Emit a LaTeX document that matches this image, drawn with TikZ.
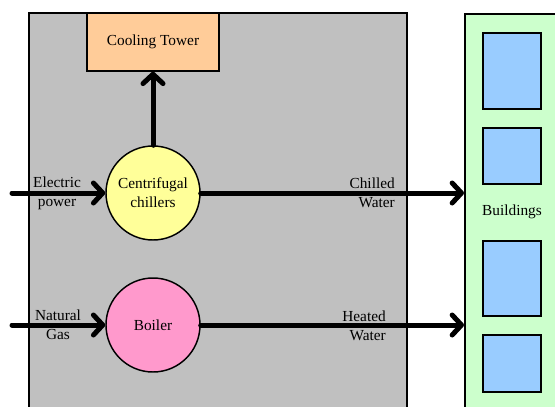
\documentclass[tikz,border=0pt]{standalone}
\usepackage{fontspec}
\setmainfont{Liberation Serif}
\usetikzlibrary{arrows.meta}
\usetikzlibrary{positioning}

\definecolor{plantgray}{HTML}{C0C0C0}
\definecolor{towerpeach}{HTML}{FFCC99}
\definecolor{chillyellow}{HTML}{FFFF99}
\definecolor{boilerpink}{HTML}{FF99CC}
\definecolor{bldgreen}{HTML}{CCFFCC}
\definecolor{winblue}{HTML}{99CCFF}

\begin{document}
\begin{tikzpicture}[x=0.75pt, y=-0.75pt,
    flow/.style={line width=3.75pt, line cap=round, -{Straight Barb[length=7pt,width=15pt,round]}},
    lbl/.style={font=\fontsize{11.5}{14.25}\selectfont, inner sep=0pt, align=center},
    unit/.style={draw=black, line width=1.1pt, circle, minimum size=70.5pt, inner sep=0pt, lbl},
    win/.style={draw=black, line width=1.5pt, fill=winblue, minimum width=43.5pt, inner sep=0pt}]
        \useasboundingbox (0,0) rectangle (555,406);
        \clip (0,0) rectangle (555,406);

        %plant and buildings
        \node[draw=black, fill=plantgray, line width=1.5pt, minimum width=283.5pt, minimum height=307.5pt, inner sep=0pt] (plant) at (218,218) {};
        \node[draw=black, fill=bldgreen, line width=1.5pt, minimum width=75pt, minimum height=312pt, inner sep=0pt] (bld) at (515,222) {};

        %windows
        \node[win, minimum height=57pt] (win1) at (512,71) {};
        \node[win, minimum height=42pt] (win2) at (512,156) {};
        \node[win, minimum height=56.25pt] (win3) at (512,278.5) {};
        \node[win, minimum height=42.75pt] (win4) at (512,363.5) {};
        \node[lbl] (bldlbl) at (512,212) {Buildings};

        %units
        \node[draw=black, fill=towerpeach, line width=1.1pt, minimum width=99pt, minimum height=43.5pt, lbl] (ct) at (153,42) {Cooling Tower};
        \node[unit, fill=chillyellow] (chiller) at (153,193) {Centrifugal\\chillers};
        \node[unit, fill=boilerpink] (boiler) at (153,325) {Boiler};

        %inputs
        \coordinate (elec) at (12,193);
        \coordinate (gas) at (12,325);

        \draw[flow] (elec) -- (chiller.west);
        \draw[flow] (gas) -- (boiler.west);
        \draw[flow] (chiller.north) -- (ct.south);
        \draw[flow] (chiller.east) -- (chiller.east -| bld.west);
        \draw[flow] (boiler.east) -- (boiler.east -| bld.west);

        %labels
        \node[lbl] (eleclbl) at (57,193) {Electric\\power};
        \node[lbl] (gaslbl) at (58,325) {Natural\\Gas};
        \node[lbl, align=right, anchor=east] (chilllbl) at (395,193) {Chilled\\Water};
        \node[lbl, align=right, anchor=east] (heatlbl) at (386,326) {Heated\\Water};
    \end{tikzpicture}
\end{document}
